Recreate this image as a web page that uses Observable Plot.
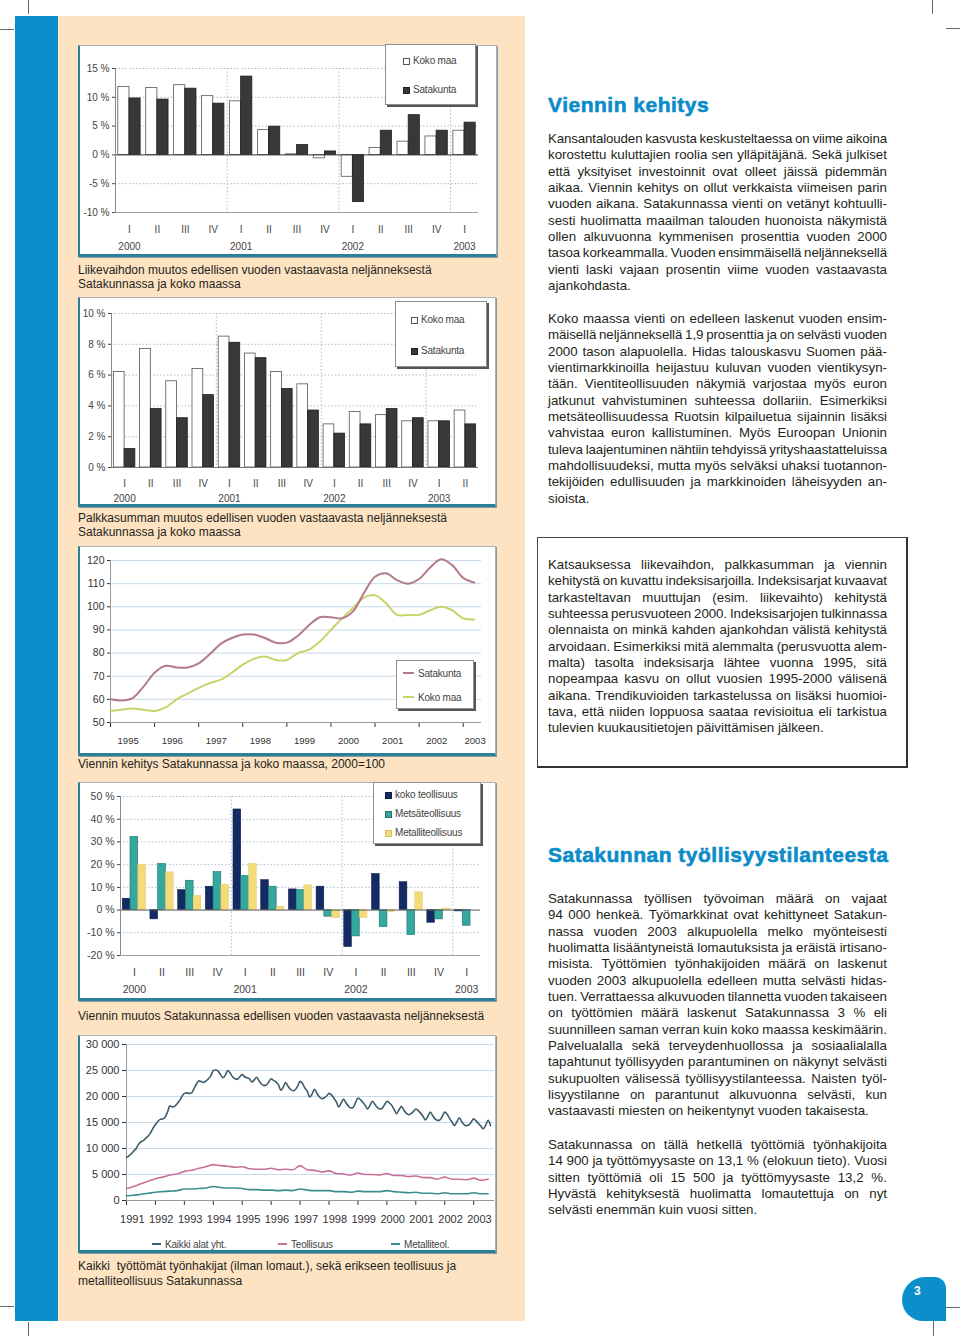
<!DOCTYPE html>
<html lang="fi">
<head>
<meta charset="utf-8">
<title>Viennin kehitys – Satakunta</title>
<script src="https://cdn.jsdelivr.net/npm/d3@7"></script>
<script src="https://cdn.jsdelivr.net/npm/@observablehq/plot@0.6"></script>
<style>
html,body{margin:0;padding:0;background:#fff;}
#page{position:relative;width:960px;height:1336px;overflow:hidden;font-family:"Liberation Sans",Arial,Helvetica,sans-serif;color:#231f20;}
.a{position:absolute;}
.mk{position:absolute;background:#666;}
#strip{left:15px;top:16px;width:43px;height:1305px;background:#0b8fca;}
#panel{left:58px;top:16px;width:467px;height:1305px;background:#fee3c3;}
.chart{position:absolute;}
.chart .frame{position:absolute;left:0;top:0;right:0;bottom:0;background:#fff;border:1px solid #a9b4b8;border-left:2px solid #2a7f99;border-bottom:3px solid #2a7f99;box-shadow:1px 1px 0 #8a9aa0;}
.chart svg{position:absolute;left:0;top:0;}
.legend{position:absolute;background:#fff;border:1px solid #8f8f8f;box-shadow:2px 2px 0 #555;font-size:10px;color:#444;letter-spacing:-0.2px;}
.it{position:absolute;white-space:nowrap;line-height:12px;font-size:10px;color:#444;letter-spacing:-0.2px;}
.sw{display:inline-block;vertical-align:-1px;margin-right:3px;width:7px;height:7px;box-sizing:border-box;}
.ls{display:inline-block;vertical-align:3px;margin-right:4px;width:11px;height:2px;}
.cap{position:absolute;left:78px;font-size:12px;line-height:14.4px;color:#231f20;white-space:nowrap;}
.para{position:absolute;left:548px;width:339px;font-size:13.3px;color:#231f20;}
.ln{display:flex;justify-content:space-between;height:16.33px;line-height:16.33px;white-space:nowrap;}
.ln.last{justify-content:flex-start;gap:0.278em;}
.head{position:absolute;left:548px;font-size:21px;line-height:21px;font-weight:bold;color:#0b8cc9;letter-spacing:0.5px;-webkit-text-stroke:0.6px #0b8cc9;white-space:nowrap;}
#box3{left:537px;top:537px;width:368px;height:228px;border:1px solid #444;border-right:2px solid #333;border-bottom:2px solid #333;}
#pagenum{left:902px;top:1277px;width:44px;height:44px;background:#0b8fca;border-radius:24px 12px 0 22px;}
#pagenum span{position:absolute;left:12px;top:7px;color:#fff;font-weight:bold;font-size:12px;}
</style>
</head>
<body>
<div id="page">
  <div class="mk" style="left:28px;top:0;width:1px;height:14px"></div>
  <div class="mk" style="left:0;top:29px;width:14px;height:1px"></div>
  <div class="mk" style="left:932px;top:0;width:1px;height:14px"></div>
  <div class="mk" style="left:946px;top:28px;width:14px;height:1px"></div>
  <div class="mk" style="left:28px;top:1322px;width:1px;height:14px"></div>
  <div class="mk" style="left:0;top:1306px;width:14px;height:1px"></div>
  <div class="mk" style="left:946px;top:1307px;width:14px;height:1px"></div>
  <div class="mk" style="left:933px;top:1321px;width:1px;height:15px"></div>

  <div id="strip" class="a"></div>
  <div id="panel" class="a"></div>

  <div class="chart" id="c1" style="left:78px;top:45px;width:419px;height:212px">
    <div class="frame"></div>
  </div>
  <div class="cap" style="top:263px">Liikevaihdon muutos edellisen vuoden vastaavasta neljänneksestä<br>Satakunnassa ja koko maassa</div>

  <div class="chart" id="c2" style="left:78px;top:297px;width:418px;height:210px">
    <div class="frame"></div>
  </div>
  <div class="cap" style="top:511px">Palkkasumman muutos edellisen vuoden vastaavasta neljänneksestä<br>Satakunnassa ja koko maassa</div>

  <div class="chart" id="c3" style="left:78px;top:546px;width:418px;height:210px">
    <div class="frame"></div>
  </div>
  <div class="cap" style="top:757px">Viennin kehitys Satakunnassa ja koko maassa, 2000=100</div>

  <div class="chart" id="c4" style="left:78px;top:782px;width:418px;height:219px">
    <div class="frame"></div>
  </div>
  <div class="cap" style="top:1009px">Viennin muutos Satakunnassa edellisen vuoden vastaavasta neljänneksestä</div>

  <div class="chart" id="c5" style="left:78px;top:1035px;width:418px;height:218px">
    <div class="frame"></div>
  </div>
  <div class="cap" style="top:1259px;line-height:14.7px">Kaikki&nbsp; työttömät työnhakijat (ilman lomaut.), sekä erikseen teollisuus ja<br>metalliteollisuus Satakunnassa</div>

  <div class="head" style="top:94px">Viennin kehitys</div>
  <div id="box3" class="a"></div>
  <div class="head" style="top:844px">Satakunnan työllisyystilanteesta</div>

  <div id="pagenum" class="a"><span>3</span></div>
</div>

<script>
// ---------- DATA ----------
// Chart 1: Liikevaihdon muutos (%)
const quarters1 = ["I","II","III","IV","I","II","III","IV","I","II","III","IV","I"];
const years1 = ["2000","","","","2001","","","","2002","","","","2003"];
const kokoMaa1 = [11.8, 11.6, 12.1, 10.2, 9.3, 4.3, 0.1, -0.6, -3.8, 1.2, 2.3, 3.2, 4.2];
const satakunta1 = [9.8, 9.6, 11.5, 8.9, 13.6, 4.9, 1.7, 0.6, -8.2, 4.2, 6.9, 4.2, 5.6];
const pctTicks1 = [-10, -5, 0, 5, 10, 15];

// Chart 2: Palkkasumman muutos (%)
const quarters2 = ["I","II","III","IV","I","II","III","IV","I","II","III","IV","I","II"];
const years2 = ["2000","","","","2001","","","","2002","","","","2003",""];
const kokoMaa2 = [6.2, 7.7, 5.6, 6.4, 8.5, 7.4, 6.2, 5.4, 2.8, 3.6, 3.4, 3.0, 3.0, 3.7];
const satakunta2 = [1.2, 3.8, 3.2, 4.7, 8.1, 7.1, 5.1, 3.7, 2.2, 2.8, 3.8, 3.2, 3.0, 2.8];
const pctTicks2 = [0, 2, 4, 6, 8, 10];

// Chart 3: Viennin kehitys, 2000=100 (quarterly from 1995 Q1)
const exportStart = 1995;
const exportYears = ["1995","1996","1997","1998","1999","2000","2001","2002","2003"];
const satakunta3 = [60, 59.5, 60.5, 65.5, 71.5, 74.5, 73.8, 73.8, 75.5, 79.5, 84, 86.5, 88, 88, 86.5, 84.5, 84.5, 87.5, 92, 95.5, 95.5, 95, 98, 106, 113, 114.5, 111.5, 110, 112, 117, 120.5, 118, 112.5, 110.5];
const kokoMaa3 = [55, 55.5, 56, 55.5, 55, 56.5, 60, 62.5, 65, 67, 68.5, 71.5, 75, 77.5, 78.5, 77, 77, 80, 81.5, 85, 90, 95, 99.5, 104, 105, 101.5, 96.5, 96.5, 96.5, 98.5, 100, 98.5, 95, 94.5];
const idxTicks = [50, 60, 70, 80, 90, 100, 110, 120];

// Chart 4: Viennin muutos Satakunnassa (%)
const quarters4 = ["I","II","III","IV","I","II","III","IV","I","II","III","IV","I"];
const years4 = ["2000","","","","2001","","","","2002","","","","2003"];
const kokoTeollisuus4 = [5.0, -4.1, 8.8, 10.3, 44.3, 13.2, 9.1, 10.3, -16.3, 15.9, 12.3, -5.6, -0.6];
const metsateollisuus4 = [32.2, 20.3, 12.9, 16.7, 15.0, 10.3, 8.8, -2.9, -11.6, -7.5, -11.0, -4.1, -6.9];
const metalliteollisuus4 = [20.0, 16.6, 6.2, 11.2, 20.3, 1.5, 10.9, -3.5, -3.5, -0.9, 7.8, 0.7, 0];
const pctTicks4 = [-20, -10, 0, 10, 20, 30, 40, 50];

// Chart 5: Työttömät työnhakijat (monthly Kaikki from Jan 1991; quarterly others)
const unempStart = 1991;
const unempYears = ["1991","1992","1993","1994","1995","1996","1997","1998","1999","2000","2001","2002","2003"];
const kaikkiAlat5 = [
  8300, 8600, 9000, 9500, 10000, 10800, 11300, 11500, 12000, 12400, 13000, 13900,
  14600, 15200, 15600, 15700, 16000, 17000, 18200, 18000, 18100, 18600, 19200, 20000,
  20600, 20700, 20600, 20700, 21500, 22400, 23000, 22900, 22700, 23000, 23400, 24000,
  25000, 25100, 24900, 24200, 23600, 24100, 25000, 24500, 23800, 23400, 23300, 23800,
  24200, 23800, 23600, 23400, 22800, 23200, 23700, 23000, 22400, 22100, 22200, 22800,
  23400, 23100, 22800, 22300, 21200, 21800, 22700, 22000, 21400, 21100, 21300, 22000,
  22900, 22500, 21600, 21000, 19900, 20500, 21400, 20600, 19900, 19600, 19700, 20100,
  20600, 20300, 19700, 19000, 18000, 18700, 19500, 18800, 18200, 17800, 17900, 18800,
  19700, 19400, 18900, 18300, 17600, 18300, 19100, 18500, 17900, 17600, 17700, 18400,
  19100, 18800, 18300, 17500, 16700, 17400, 18100, 17400, 16800, 16500, 16700, 17100,
  17600, 17300, 16800, 16200, 15500, 16200, 17000, 16300, 15700, 15400, 15500, 16200,
  17000, 16600, 15800, 15100, 14400, 15100, 15900, 15200, 14600, 14400, 14500, 15100,
  15700, 15300, 14800, 14300, 13800, 14500, 15400, 14400
];
const teollisuus5 = [
  2300, 2700, 3200, 3700, 4200, 4500, 4900, 5100, 5600, 5800, 6200, 6500,
  6900, 6700, 6600, 6400, 6500, 6100, 6000, 6000, 6200, 5900, 6000, 5900,
  6700, 5900, 5800, 5500, 5700, 5200, 5100, 4900, 5300, 5000, 5000, 4900,
  5200, 4800, 4800, 4600, 4700, 4400, 4400, 4100, 4500, 4100, 4100, 4000,
  4300, 3900, 4100
];
const metalliteol5 = [
  900, 1000, 1200, 1400, 1600, 1700, 1800, 1900, 2200, 2200, 2300, 2400,
  2700, 2500, 2400, 2400, 2300, 2100, 2100, 2000, 2000, 1900, 2000, 1900,
  2200, 2000, 1900, 1900, 1900, 1700, 1700, 1600, 1800, 1700, 1700, 1700,
  1900, 1700, 1600, 1500, 1600, 1400, 1400, 1300, 1500, 1300, 1300, 1300,
  1500, 1300, 1300
];
const countTicks = [0, 5000, 10000, 15000, 20000, 25000, 30000];

// ---------- TEXT ----------
const para1 = [
  "Kansantalouden kasvusta keskusteltaessa on viime aikoina",
  "korostettu kuluttajien roolia sen ylläpitäjänä. Sekä julkiset",
  "että yksityiset investoinnit ovat olleet jäissä pidemmän",
  "aikaa. Viennin kehitys on ollut verkkaista viimeisen parin",
  "vuoden aikana. Satakunnassa vienti on vetänyt kohtuulli-",
  "sesti huolimatta maailman talouden huonoista näkymistä",
  "ollen alkuvuonna kymmenisen prosenttia vuoden 2000",
  "tasoa korkeammalla. Vuoden ensimmäisellä neljänneksellä",
  "vienti laski vajaan prosentin viime vuoden vastaavasta",
  "ajankohdasta."
];
const para2 = [
  "Koko maassa vienti on edelleen laskenut vuoden ensim-",
  "mäisellä neljänneksellä 1,9 prosenttia ja on selvästi vuoden",
  "2000 tason alapuolella. Hidas talouskasvu Suomen pää-",
  "vientimarkkinoilla heijastuu kuluvan vuoden vientikysyn-",
  "tään. Vientiteollisuuden näkymiä varjostaa myös euron",
  "jatkunut vahvistuminen suhteessa dollariin. Esimerkiksi",
  "metsäteollisuudessa Ruotsin kilpailuetua sijainnin lisäksi",
  "vahvistaa euron kallistuminen. Myös Euroopan Unionin",
  "tuleva laajentuminen nähtiin tehdyissä yrityshaastatteluissa",
  "mahdollisuudeksi, mutta myös selväksi uhaksi tuotannon-",
  "tekijöiden edullisuuden ja markkinoiden läheisyyden an-",
  "sioista."
];
const para3 = [
  "Katsauksessa liikevaihdon, palkkasumman ja viennin",
  "kehitystä on kuvattu indeksisarjoilla. Indeksisarjat kuvaavat",
  "tarkasteltavan muuttujan (esim. liikevaihto) kehitystä",
  "suhteessa perusvuoteen 2000. Indeksisarjojen tulkinnassa",
  "olennaista on minkä kahden ajankohdan välistä kehitystä",
  "arvoidaan. Esimerkiksi mitä alemmalta (perusvuotta alem-",
  "malta) tasolta indeksisarja lähtee vuonna 1995, sitä",
  "nopeampaa kasvu on ollut vuosien 1995-2000 välisenä",
  "aikana. Trendikuvioiden tarkastelussa on lisäksi huomioi-",
  "tava, että niiden loppuosa saataa revisioitua eli tarkistua",
  "tulevien kuukausitietojen päivittämisen jälkeen."
];
const para4 = [
  "Satakunnassa työllisen työvoiman määrä on vajaat",
  "94 000 henkeä. Työmarkkinat ovat kehittyneet Satakun-",
  "nassa vuoden 2003 alkupuolella melko myönteisesti",
  "huolimatta lisääntyneistä lomautuksista ja eräistä irtisano-",
  "misista. Työttömien työnhakijoiden määrä on laskenut",
  "vuoden 2003 alkupuolella edelleen mutta selvästi hidas-",
  "tuen. Verrattaessa alkuvuoden tilannetta vuoden takaiseen",
  "on työttömien määrä laskenut Satakunnassa 3 % eli",
  "suunnilleen saman verran kuin koko maassa keskimäärin.",
  "Palvelualalla sekä terveydenhuollossa ja sosiaalialalla",
  "tapahtunut työllisyyden parantuminen on näkynyt selvästi",
  "sukupuolten välisessä työllisyystilanteessa. Naisten työl-",
  "lisyystilanne on parantunut alkuvuonna selvästi, kun",
  "vastaavasti miesten on heikentynyt vuoden takaisesta."
];
const para5 = [
  "Satakunnassa on tällä hetkellä työttömiä työnhakijoita",
  "14 900 ja työttömyysaste on 13,1 % (elokuun tieto). Vuosi",
  "sitten työttömiä oli 15 500 ja työttömyysaste 13,2 %.",
  "Hyvästä kehityksestä huolimatta lomautettuja on nyt",
  "selvästi enemmän kuin vuosi sitten."
];

// ---------- HELPERS ----------
const page = document.getElementById("page");
const FONT = '"Liberation Sans", Arial, Helvetica, sans-serif';
const COLW = 339;

function addPara(lines, top) {
  const p = document.createElement("div");
  p.className = "para";
  p.style.top = top + "px";
  lines.forEach((ln, idx) => {
    const row = document.createElement("div");
    row.className = "ln" + (idx === lines.length - 1 ? " last" : "");
    const words = ln.split(/\s+/);
    if (words.length === 1) row.style.justifyContent = "flex-start";
    words.forEach(w => {
      const s = document.createElement("span");
      s.textContent = w;
      row.appendChild(s);
    });
    p.appendChild(row);
  });
  page.appendChild(p);
}
addPara(para1, 131);
addPara(para2, 311);
addPara(para3, 557);
addPara(para4, 891);
addPara(para5, 1137);

// tighten letter spacing on justified lines that would otherwise overflow
document.querySelectorAll(".ln").forEach(row => {
  const spans = Array.from(row.children);
  if (spans.length < 2 || row.classList.contains("last")) return;
  const W = spans.reduce((s, el) => s + el.getBoundingClientRect().width, 0);
  const chars = spans.reduce((s, el) => s + el.textContent.length, 0);
  const need = W + (spans.length - 1) * 2.8;
  if (need > COLW) row.style.letterSpacing = (-(need - COLW) / chars).toFixed(3) + "px";
});

function pctFmt(d) { return d + " %"; }
function thousands(d) { return d === 0 ? "0" : d3.format(",")(d).replace(/,/g, " "); }

function grouped(cfg) {
  const n = cfg.quarters.length, k = cfg.series.length;
  const gw = cfg.groupWidth, bw = gw / k;
  const y0 = cfg.yDomain[0];
  const yearStarts = cfg.years.map((y, i) => (y && i > 0 ? i : null)).filter(v => v !== null);
  const marks = [
    Plot.ruleY(cfg.yTicks.filter(t => t !== 0 && t !== y0), {stroke: cfg.gridColor, strokeDasharray: "1.5,2"}),
    Plot.ruleX(yearStarts, {x: d => d - 0.5, stroke: cfg.gridColor, strokeDasharray: "1.5,2"}),
    Plot.ruleY([y0], {stroke: "#a0a0a0"})
  ];
  cfg.series.forEach((s, j) => {
    marks.push(Plot.rect(s.values, {
      x1: (d, i) => i - gw / 2 + j * bw,
      x2: (d, i) => i - gw / 2 + (j + 1) * bw,
      y1: 0, y2: d => d,
      fill: s.fill, stroke: s.stroke, strokeWidth: s.sw
    }));
  });
  marks.push(Plot.ruleY([0], {stroke: cfg.zeroColor}));
  marks.push(Plot.ruleX([-0.5], {stroke: "#8a8a8a"}));
  marks.push(Plot.text(cfg.quarters, {x: (d, i) => i, y: y0, dy: cfg.qdy, text: d => d, fontSize: cfg.fs, fill: "#444"}));
  marks.push(Plot.text(cfg.years, {x: (d, i) => i, y: y0, dy: cfg.ydy, text: d => d, fontSize: cfg.fs, fill: "#444"}));
  return Plot.plot({
    width: cfg.width, height: cfg.height,
    marginLeft: cfg.ml, marginRight: cfg.mr, marginTop: cfg.mt, marginBottom: cfg.mb,
    x: {domain: [-0.5, n - 0.5], axis: null},
    y: {domain: cfg.yDomain, ticks: cfg.yTicks, tickFormat: pctFmt, tickSize: 3, tickPadding: 3, label: null},
    style: {fontFamily: FONT, fontSize: cfg.fs + "px", color: "#444", background: "transparent", overflow: "visible"},
    marks
  });
}

function legend(parentId, box, items) {
  const lg = document.createElement("div");
  lg.className = "legend";
  Object.assign(lg.style, {left: box[0] + "px", top: box[1] + "px", width: box[2] + "px", height: box[3] + "px"});
  items.forEach(it => {
    const d = document.createElement("div");
    d.className = "it";
    d.style.left = it.x + "px";
    d.style.top = it.y + "px";
    const sw = document.createElement("span");
    if (it.line) {
      sw.className = "ls";
      sw.style.background = it.color;
    } else {
      sw.className = "sw";
      sw.style.background = it.color;
      sw.style.border = "1px solid " + it.border;
    }
    d.appendChild(sw);
    d.appendChild(document.createTextNode(it.label));
    lg.appendChild(d);
  });
  document.getElementById(parentId).appendChild(lg);
}

// ---------- CHART 1 ----------
document.getElementById("c1").appendChild(grouped({
  width: 419, height: 212, ml: 37, mr: 19, mt: 23, mb: 45,
  quarters: quarters1, years: years1, yDomain: [-10, 15], yTicks: pctTicks1,
  groupWidth: 0.8, gridColor: "#b8b8b8", zeroColor: "#333", fs: 10, qdy: 17, ydy: 34,
  series: [
    {values: kokoMaa1, fill: "#ffffff", stroke: "#555", sw: 0.8},
    {values: satakunta1, fill: "#383838", stroke: "#1e1e1e", sw: 0.8}
  ]
}));
legend("c1", [307, -1, 89, 59], [
  {x: 17, y: 10, label: "Koko maa", color: "#fff", border: "#555"},
  {x: 17, y: 39, label: "Satakunta", color: "#383838", border: "#222"}
]);

// ---------- CHART 2 ----------
document.getElementById("c2").appendChild(grouped({
  width: 418, height: 210, ml: 33, mr: 18, mt: 16, mb: 40,
  quarters: quarters2, years: years2, yDomain: [0, 10], yTicks: pctTicks2,
  groupWidth: 0.82, gridColor: "#b8b8b8", zeroColor: "#777", fs: 10, qdy: 16, ydy: 31,
  series: [
    {values: kokoMaa2, fill: "#ffffff", stroke: "#555", sw: 0.8},
    {values: satakunta2, fill: "#383838", stroke: "#1e1e1e", sw: 0.8}
  ]
}));
legend("c2", [317, 4, 90, 64], [
  {x: 15, y: 12, label: "Koko maa", color: "#fff", border: "#555"},
  {x: 15, y: 43, label: "Satakunta", color: "#383838", border: "#222"}
]);

// ---------- CHART 3 ----------
document.getElementById("c3").appendChild(Plot.plot({
  width: 418, height: 210, marginLeft: 32, marginRight: 15, marginTop: 14, marginBottom: 34,
  x: {domain: [1995, 2003.415], ticks: exportYears.map(Number), tickFormat: () => "", tickSize: 5, label: null},
  y: {domain: [50, 120], ticks: idxTicks, tickSize: 3, tickPadding: 3, label: null},
  style: {fontFamily: FONT, fontSize: "10.5px", color: "#333", background: "transparent", overflow: "visible"},
  marks: [
    Plot.ruleY(idxTicks.filter(t => t > 50), {stroke: "#c7dbea"}),
    Plot.ruleX([1995], {stroke: "#9a9a9a"}),
    Plot.ruleY([50], {stroke: "#9a9a9a"}),
    Plot.line(kokoMaa3, {x: (d, i) => exportStart + i / 4, y: d => d, stroke: "#c8d36a", strokeWidth: 2, curve: "catmull-rom"}),
    Plot.line(satakunta3, {x: (d, i) => exportStart + i / 4, y: d => d, stroke: "#b47a8c", strokeWidth: 2, curve: "catmull-rom"}),
    Plot.text(exportYears, {x: d => Math.min(+d + 0.4, 2003.27), y: 50, dy: 18, text: d => d, fontSize: 9.5, fill: "#333"})
  ]
}));
legend("c3", [318, 114, 76, 47], [
  {x: 6, y: 7, label: "Satakunta", color: "#b47a8c", line: true},
  {x: 6, y: 31, label: "Koko maa", color: "#c8d36a", line: true}
]);

// ---------- CHART 4 ----------
document.getElementById("c4").appendChild(grouped({
  width: 418, height: 219, ml: 42, mr: 16, mt: 14, mb: 46,
  quarters: quarters4, years: years4, yDomain: [-20, 50], yTicks: pctTicks4,
  groupWidth: 0.84, gridColor: "#a9bfd0", zeroColor: "#555", fs: 10.5, qdy: 17, ydy: 34,
  series: [
    {values: kokoTeollisuus4, fill: "#132a63", stroke: "#0d1d47", sw: 0.5},
    {values: metsateollisuus4, fill: "#35a89e", stroke: "#1f6f6a", sw: 0.6},
    {values: metalliteollisuus4, fill: "#f3dc78", stroke: "#d8c068", sw: 0.4}
  ]
}));
legend("c4", [295, 0, 106, 60], [
  {x: 11, y: 6, label: "koko teollisuus", color: "#132a63", border: "#0d1d47"},
  {x: 11, y: 25, label: "Metsäteollisuus", color: "#35a89e", border: "#1f6f6a"},
  {x: 11, y: 44, label: "Metalliteollisuus", color: "#f3dc78", border: "#d8c068"}
]);

// ---------- CHART 5 ----------
document.getElementById("c5").appendChild(Plot.plot({
  width: 418, height: 218, marginLeft: 48, marginRight: 2, marginTop: 9, marginBottom: 53,
  x: {domain: [1991, 2003.72], ticks: unempYears.map(Number), tickFormat: () => "", tickSize: 5, label: null},
  y: {domain: [0, 30000], ticks: countTicks, tickFormat: thousands, tickSize: 4, tickPadding: 3, label: null},
  style: {fontFamily: FONT, fontSize: "11px", color: "#333", background: "transparent", overflow: "visible"},
  marks: [
    Plot.ruleY(countTicks.filter(t => t > 0), {stroke: "#c7dbea"}),
    Plot.ruleX([1991], {stroke: "#9a9a9a"}),
    Plot.ruleY([0], {stroke: "#9a9a9a"}),
    Plot.line(metalliteol5, {x: (d, i) => unempStart + i / 4, y: d => d, stroke: "#3c8e8c", strokeWidth: 1.6, curve: "monotone-x"}),
    Plot.line(teollisuus5, {x: (d, i) => unempStart + i / 4, y: d => d, stroke: "#c96f98", strokeWidth: 1.6, curve: "monotone-x"}),
    Plot.line(kaikkiAlat5, {x: (d, i) => unempStart + i / 12, y: d => d, stroke: "#3d5c6c", strokeWidth: 1.6, curve: "monotone-x"}),
    Plot.text(unempYears, {x: d => +d + 0.2, y: 0, dy: 19, text: d => d, fontSize: 11, fill: "#333"})
  ]
}));
[
  {x: 74, label: "Kaikki alat yht.", color: "#3d5c6c"},
  {x: 200, label: "Teollisuus", color: "#c96f98"},
  {x: 313, label: "Metalliteol.", color: "#3c8e8c"}
].forEach(it => {
  const d = document.createElement("div");
  d.className = "it";
  d.style.left = it.x + "px";
  d.style.top = "204px";
  const sw = document.createElement("span");
  sw.className = "ls";
  sw.style.background = it.color;
  sw.style.width = "9px";
  d.appendChild(sw);
  d.appendChild(document.createTextNode(it.label));
  document.getElementById("c5").appendChild(d);
});
</script>
</body>
</html>
